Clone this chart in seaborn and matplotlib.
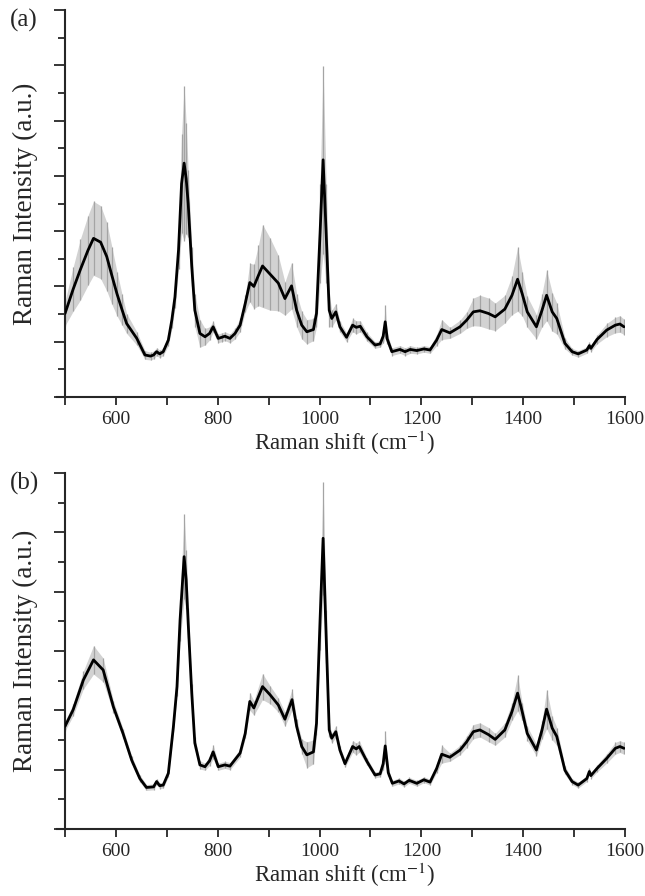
import numpy as np
import pandas as pd
import matplotlib
matplotlib.use("Agg")
import matplotlib.pyplot as plt
from matplotlib.ticker import MultipleLocator, NullFormatter
import seaborn as sns

# ---------------- data ----------------
shift_a = [500, 516, 530, 545, 556, 570, 582, 592, 602, 612, 621, 641, 657, 668, 674, 680, 686, 693,
           703, 710, 716, 723, 729, 734, 738, 742, 749, 755, 765, 775, 784, 791, 801, 808, 814, 824,
           834, 844, 854, 863, 871, 880, 888, 903, 919, 932, 945, 955, 965, 975, 988, 994, 1001,
           1007, 1013, 1019, 1024, 1032, 1040, 1053, 1065, 1072, 1080, 1093, 1109, 1119, 1125,
           1129, 1133, 1142, 1158, 1168, 1178, 1191, 1205, 1217, 1230, 1240, 1256, 1276, 1289,
           1302, 1315, 1332, 1345, 1364, 1378, 1389, 1398, 1408, 1426, 1437, 1446, 1457, 1466,
           1482, 1496, 1508, 1525, 1530, 1533, 1545, 1564, 1581, 1590, 1598]
mean_a = [1.51, 1.95, 2.30, 2.65, 2.87, 2.80, 2.54, 2.20, 1.87, 1.58, 1.33, 1.06, 0.76, 0.74, 0.76,
          0.82, 0.78, 0.82, 1.03, 1.40, 1.81, 2.66, 3.86, 4.23, 3.95, 3.50, 2.36, 1.57, 1.15, 1.09,
          1.15, 1.27, 1.06, 1.08, 1.10, 1.06, 1.15, 1.30, 1.69, 2.07, 2.00, 2.20, 2.37, 2.22, 2.06,
          1.78, 2.01, 1.57, 1.30, 1.18, 1.22, 1.51, 2.96, 4.29, 2.96, 1.57, 1.42, 1.54, 1.27, 1.08,
          1.30, 1.26, 1.28, 1.09, 0.94, 0.96, 1.10, 1.36, 1.05, 0.82, 0.86, 0.82, 0.86, 0.84, 0.87,
          0.85, 1.03, 1.22, 1.16, 1.27, 1.39, 1.54, 1.56, 1.51, 1.45, 1.59, 1.84, 2.13, 1.87, 1.54,
          1.27, 1.57, 1.84, 1.54, 1.42, 0.97, 0.82, 0.78, 0.85, 0.93, 0.88, 1.04, 1.21, 1.30, 1.32,
          1.27]
std_a = [0.22, 0.40, 0.55, 0.63, 0.67, 0.66, 0.62, 0.52, 0.40, 0.28, 0.18, 0.12, 0.08, 0.07, 0.07,
         0.07, 0.07, 0.07, 0.10, 0.15, 0.20, 0.35, 0.90, 1.40, 1.00, 0.60, 0.35, 0.30, 0.25, 0.15,
         0.12, 0.10, 0.08, 0.08, 0.08, 0.08, 0.10, 0.12, 0.15, 0.35, 0.40, 0.55, 0.75, 0.65, 0.50,
         0.30, 0.42, 0.30, 0.25, 0.22, 0.20, 0.25, 0.90, 1.70, 0.90, 0.30, 0.15, 0.15, 0.10, 0.08,
         0.12, 0.12, 0.10, 0.08, 0.06, 0.06, 0.12, 0.30, 0.10, 0.07, 0.07, 0.07, 0.07, 0.06, 0.06,
         0.06, 0.10, 0.18, 0.10, 0.12, 0.15, 0.25, 0.28, 0.28, 0.25, 0.25, 0.35, 0.58, 0.40, 0.28,
         0.22, 0.30, 0.46, 0.35, 0.28, 0.10, 0.06, 0.06, 0.06, 0.06, 0.06, 0.08, 0.12, 0.14, 0.15,
         0.14]

shift_b = [500, 516, 536, 556, 575, 595, 614, 631, 647, 660, 674, 680, 686, 693, 703, 713, 720, 726,
           734, 738, 742, 749, 755, 765, 775, 784, 791, 801, 814, 824, 844, 854, 863, 871, 888, 903,
           919, 932, 946, 955, 965, 975, 988, 994, 1001, 1007, 1013, 1019, 1024, 1032, 1040, 1050,
           1065, 1072, 1078, 1093, 1109, 1119, 1125, 1129, 1135, 1143, 1156, 1166, 1176, 1191,
           1205, 1217, 1230, 1240, 1256, 1276, 1289, 1302, 1315, 1332, 1345, 1364, 1378, 1389,
           1398, 1408, 1426, 1437, 1446, 1457, 1466, 1482, 1496, 1508, 1525, 1530, 1533, 1545,
           1564, 1581, 1590, 1598]
mean_b = [1.73, 2.01, 2.51, 2.85, 2.68, 2.06, 1.61, 1.16, 0.85, 0.70, 0.71, 0.80, 0.73, 0.74, 0.94,
          1.73, 2.40, 3.52, 4.59, 4.20, 3.47, 2.29, 1.45, 1.08, 1.05, 1.15, 1.30, 1.05, 1.08, 1.06,
          1.28, 1.61, 2.15, 2.04, 2.40, 2.26, 2.09, 1.85, 2.18, 1.73, 1.39, 1.25, 1.30, 1.78, 3.52,
          4.90, 3.24, 1.67, 1.53, 1.64, 1.33, 1.10, 1.39, 1.35, 1.39, 1.14, 0.91, 0.93, 1.10, 1.40,
          0.95, 0.77, 0.81, 0.76, 0.82, 0.77, 0.83, 0.79, 1.02, 1.26, 1.21, 1.33, 1.47, 1.64, 1.67,
          1.59, 1.51, 1.67, 1.98, 2.29, 1.98, 1.61, 1.33, 1.67, 2.02, 1.70, 1.56, 0.99, 0.80, 0.74,
          0.85, 0.97, 0.90, 1.02, 1.19, 1.36, 1.39, 1.36]
std_b = [0.08, 0.10, 0.15, 0.24, 0.20, 0.10, 0.08, 0.07, 0.06, 0.05, 0.05, 0.05, 0.05, 0.05, 0.06,
         0.10, 0.15, 0.35, 0.72, 0.50, 0.25, 0.15, 0.10, 0.07, 0.06, 0.08, 0.12, 0.06, 0.06, 0.06,
         0.07, 0.08, 0.15, 0.12, 0.22, 0.15, 0.12, 0.12, 0.18, 0.12, 0.12, 0.22, 0.20, 0.20, 0.50,
         0.95, 0.45, 0.12, 0.08, 0.10, 0.07, 0.06, 0.10, 0.10, 0.10, 0.06, 0.05, 0.05, 0.10, 0.25,
         0.06, 0.05, 0.05, 0.05, 0.05, 0.05, 0.05, 0.05, 0.07, 0.15, 0.07, 0.08, 0.10, 0.12, 0.12,
         0.12, 0.10, 0.12, 0.15, 0.30, 0.15, 0.12, 0.10, 0.15, 0.33, 0.20, 0.15, 0.07, 0.05, 0.05,
         0.05, 0.05, 0.05, 0.06, 0.08, 0.10, 0.10, 0.10]

panel_labels = ["(a)", "(b)"]
x_label = "Raman shift (cm$^{-1}$)"
y_label = "Raman Intensity (a.u.)"
y_tops = [7, 6]

# ---------------- style ----------------
sns.set_style("ticks")
plt.rcParams["font.family"] = ["Liberation Serif", "DejaVu Serif"]
plt.rcParams["mathtext.fontset"] = "stix"

fig = plt.figure(figsize=(6.45, 8.96), dpi=100)
W, H = 645, 896
boxes = [(65, 10, 625, 397), (65, 473, 625, 829)]

datasets = [(shift_a, mean_a, std_a), (shift_b, mean_b, std_b)]
for i, ((xs, ms, ss), (l, t, r, b)) in enumerate(zip(datasets, boxes)):
    ax = fig.add_axes([l / W, 1 - b / H, (r - l) / W, (b - t) / H])
    df = pd.DataFrame({"shift": xs, "mean": ms, "std": ss})
    lo = df["mean"] - df["std"]
    hi = df["mean"] + df["std"]
    ax.fill_between(df["shift"], lo, hi, color="#d2d2d2", lw=0, zorder=1)
    ax.vlines(df["shift"], lo, hi, color="#a4a4a4", lw=0.9, zorder=2)
    sns.lineplot(data=df, x="shift", y="mean", ax=ax, color="black", lw=2.0, zorder=3)

    ax.set_xlim(500, 1600)
    ax.set_ylim(0, y_tops[i])
    ax.xaxis.set_major_locator(MultipleLocator(200))
    ax.xaxis.set_minor_locator(MultipleLocator(100))
    ax.yaxis.set_major_locator(MultipleLocator(1))
    ax.yaxis.set_minor_locator(MultipleLocator(0.5))
    ax.yaxis.set_major_formatter(NullFormatter())
    ax.tick_params(axis="x", which="both", direction="out", length=6, width=1.3, labelsize=14, pad=4)
    ax.tick_params(axis="y", which="major", direction="out", length=8, width=1.3)
    ax.tick_params(axis="y", which="minor", direction="out", length=5, width=1.3)
    for s in ["top", "right"]:
        ax.spines[s].set_visible(False)
    for s in ["left", "bottom"]:
        ax.spines[s].set_linewidth(1.5)
    ax.spines["bottom"].set_bounds(484, 1600)
    ax.set_xlabel(x_label, fontsize=16.5, labelpad=1)
    ax.set_ylabel(y_label, fontsize=19.5, labelpad=8)
    fig.text(10 / W, 1 - (t + 10) / H, panel_labels[i], fontsize=18, va="center", ha="left")

fig.savefig("out.png", dpi=100)
